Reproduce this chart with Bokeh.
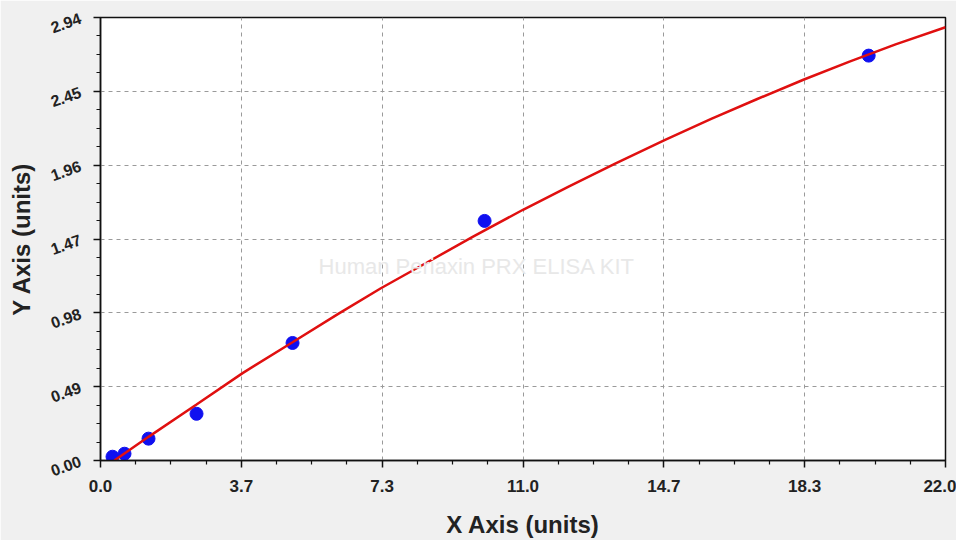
from bokeh.plotting import figure
from bokeh.models import FixedTicker, Label, Range1d
from bokeh.embed import file_html
from bokeh.resources import INLINE

# ---- data ----
std_conc = [0.3125, 0.625, 1.25, 2.5, 5.0, 10.0, 20.0]
std_od = [0.025, 0.045, 0.145, 0.31, 0.78, 1.59, 2.687]

curve_x = [0.36, 1.25, 2.5, 3.7, 5.0, 6.2, 7.3, 8.5, 9.7, 11.0, 12.2, 13.4,
           14.7, 15.9, 17.1, 18.3, 19.5, 20.7, 22.0]
curve_y = [0.0, 0.157, 0.372, 0.58, 0.785, 0.975, 1.143, 1.314, 1.486, 1.664,
           1.82, 1.97, 2.128, 2.267, 2.399, 2.527, 2.647, 2.762, 2.875]

x_ticks = [0.0, 22 / 6, 44 / 6, 11.0, 88 / 6, 110 / 6, 22.0]
x_tick_labels = ["0.0", "3.7", "7.3", "11.0", "14.7", "18.3", "22.0"]
y_ticks = [0.0, 0.49, 0.98, 1.47, 1.96, 2.45, 2.94]
y_tick_labels = ["0.00", "0.49", "0.98", "1.47", "1.96", "2.45", "2.94"]

x_title = "X Axis (units)"
y_title = "Y Axis (units)"
watermark = "Human Periaxin PRX ELISA KIT"

FONT = "Liberation Sans"

p = figure(
    width=956, height=540,
    x_range=Range1d(0, 22), y_range=Range1d(0, 2.94),
    output_backend="svg", toolbar_location=None,
    min_border_left=100, min_border_right=11,
    min_border_top=17, min_border_bottom=78,
)
p.border_fill_color = "#f0f0f0"
p.background_fill_color = "white"
p.outline_line_color = "#111111"
p.outline_line_width = 1.5

def minors(ticks):
    out = []
    for a, b in zip(ticks[:-1], ticks[1:]):
        step = (b - a) / 4
        out += [a + step * k for k in (1, 2, 3)]
    return out

p.xaxis.ticker = FixedTicker(ticks=x_ticks, minor_ticks=minors(x_ticks))
p.yaxis.ticker = FixedTicker(ticks=y_ticks, minor_ticks=minors(y_ticks))
p.xaxis.major_label_overrides = {t: s for t, s in zip(x_ticks, x_tick_labels)}
p.yaxis.major_label_overrides = {t: s for t, s in zip(y_ticks, y_tick_labels)}

for ax in (p.xaxis[0], p.yaxis[0]):
    ax.axis_line_color = "#111111"
    ax.axis_line_width = 1.5
    ax.major_tick_line_color = "#111111"
    ax.minor_tick_line_color = "#111111"
    ax.major_tick_line_width = 1.5
    ax.minor_tick_line_width = 1.2
    ax.major_tick_out = 7
    ax.major_tick_in = 0
    ax.minor_tick_out = 4
    ax.minor_tick_in = 0
    ax.major_label_text_font = FONT
    ax.major_label_text_font_style = "bold"
    ax.major_label_text_color = "#222222"
    ax.axis_label_text_font = FONT
    ax.axis_label_text_font_style = "bold"
    ax.axis_label_text_color = "#222222"
    ax.axis_label_text_font_size = "24px"

p.xaxis.axis_label = x_title
p.yaxis.axis_label = y_title
p.xaxis.major_label_text_font_size = "17px"
p.yaxis.major_label_text_font_size = "16px"
p.xaxis.major_label_standoff = 12
p.yaxis.major_label_standoff = 13
p.yaxis.major_label_orientation = 0.34
p.xaxis.axis_label_standoff = 16
p.yaxis.axis_label_standoff = 9

for g in (p.xgrid[0], p.ygrid[0]):
    g.grid_line_color = "#9a9a9a"
    g.grid_line_dash = "4 4"
    g.grid_line_width = 1

p.add_layout(Label(x=9.8, y=1.29, text=watermark, text_align="center",
                   text_baseline="middle", text_font=FONT, text_font_size="22px",
                   text_color="#e8e8e8"))

p.scatter(std_conc, std_od, size=13, marker="circle", fill_color="#1010f0",
          line_color="#1010f0")
p.line(curve_x, curve_y, line_color="#e01010", line_width=2.5)

open("out.html", "w").write(file_html(p, INLINE))
